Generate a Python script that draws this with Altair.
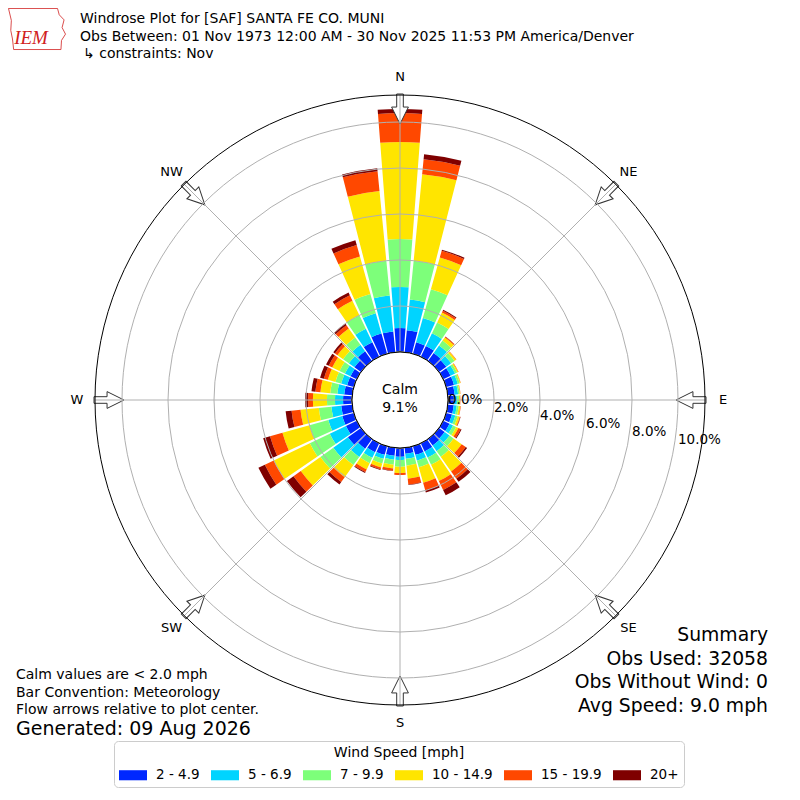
import math
import altair as alt
import pandas as pd

# ---------------- geometry of the polar panel ----------------
CHART_W = 784
CHART_H = 784
CX = CHART_W / 2
CY = CHART_H / 2
R_CALM = 48          # px radius of the calm circle (= 0 %)
R_OUTER = 305        # px radius of the outer circle
PX_PER_PCT = 23.0
R_MAX_PCT = (R_OUTER - R_CALM) / PX_PER_PCT
BAR_HALF_DEG = 4.4
FONT = "DejaVu Sans"

# ---------------- data ----------------
directions = list(range(0, 360, 10))
speed_bins = ["2 - 4.9", "5 - 6.9", "7 - 9.9", "10 - 14.9", "15 - 19.9", "20+"]
bin_colors = ["#0028ff", "#00d4ff", "#7dff7a", "#ffe500", "#ff4800", "#7f0000"]

# frequency (%) per direction (0, 10, ... 350 deg) for each speed bin
pct_2_5 = [1.04, 0.96, 0.52, 0.52, 0.43, 0.39, 0.35, 0.35, 0.30, 0.26, 0.26, 0.26,
           0.30, 0.30, 0.35, 0.39, 0.39, 0.26, 0.38, 0.35, 0.39, 0.43, 0.52, 0.70,
           0.52, 0.52, 0.48, 0.39, 0.35, 0.30, 0.30, 0.35, 0.52, 0.70, 0.91, 0.91]
pct_5_7 = [1.79, 1.34, 1.09, 0.61, 0.40, 0.26, 0.22, 0.17, 0.15, 0.13, 0.13, 0.15,
           0.17, 0.26, 0.30, 0.30, 0.26, 0.22, 0.14, 0.17, 0.18, 0.27, 0.44, 0.78,
           0.78, 0.63, 0.43, 0.35, 0.30, 0.27, 0.27, 0.30, 0.35, 0.65, 0.92, 1.57]
pct_7_10 = [2.08, 1.70, 1.30, 0.52, 0.26, 0.18, 0.10, 0.09, 0.07, 0.09, 0.09, 0.11,
            0.15, 0.22, 0.30, 0.35, 0.30, 0.30, 0.29, 0.22, 0.21, 0.26, 0.43, 0.69,
            0.96, 0.85, 0.55, 0.35, 0.31, 0.26, 0.26, 0.31, 0.39, 0.65, 0.87, 1.52]
pct_10_15 = [4.22, 3.78, 1.44, 0.48, 0.17, 0.08, 0.05, 0.04, 0.03, 0.04, 0.07, 0.09,
             0.11, 0.43, 0.78, 0.78, 0.70, 0.57, 0.28, 0.17, 0.18, 0.30, 0.65, 1.05,
             1.74, 1.22, 0.80, 0.61, 0.43, 0.34, 0.35, 0.30, 0.48, 0.70, 1.69, 3.04]
pct_15_20 = [1.26, 0.65, 0.30, 0.09, 0.04, 0.02, 0.02, 0.01, 0.01, 0.02, 0.02, 0.03,
             0.11, 0.22, 0.39, 0.43, 0.35, 0.26, 0.08, 0.09, 0.08, 0.13, 0.26, 0.39,
             0.43, 0.56, 0.39, 0.21, 0.22, 0.18, 0.17, 0.13, 0.17, 0.26, 0.52, 0.87]
pct_20p = [0.18, 0.22, 0.05, 0.04, 0.01, 0.00, 0.00, 0.00, 0.00, 0.00, 0.00, 0.01,
           0.04, 0.07, 0.17, 0.26, 0.09, 0.02, 0.00, 0.02, 0.03, 0.04, 0.13, 0.35,
           0.31, 0.31, 0.26, 0.13, 0.17, 0.17, 0.13, 0.09, 0.09, 0.13, 0.22, 0.13]
all_series = [pct_2_5, pct_5_7, pct_7_10, pct_10_15, pct_15_20, pct_20p]

ring_pcts = [2, 4, 6, 8, 10]
ring_labels = ["0.0%", "2.0%", "4.0%", "6.0%", "8.0%", "10.0%"]
ring_label_pcts = [0, 2, 4, 6, 8, 10]
compass_names = ["N", "NE", "E", "SE", "S", "SW", "W", "NW"]
compass_degs = [0, 45, 90, 135, 180, 225, 270, 315]

title_lines = [
    "Windrose Plot for [SAF] SANTA FE CO. MUNI",
    "Obs Between: 01 Nov 1973 12:00 AM - 30 Nov 2025 11:53 PM America/Denver",
    "\u21b3 constraints: Nov",
]
summary_lines = ["Summary", "Obs Used: 32058", "Obs Without Wind: 0", "Avg Speed: 9.0 mph"]
note_lines = ["Calm values are < 2.0 mph", "Bar Convention: Meteorology",
              "Flow arrows relative to plot center."]
generated_text = "Generated: 09 Aug 2026"
calm_lines = ["Calm", "9.1%"]

# ---------------- tables ----------------
rows = []
for i, d in enumerate(directions):
    base = 0.0
    for b, series in zip(speed_bins, all_series):
        v = series[i]
        rows.append(dict(dir=d, bin=b,
                         t0=math.radians(d - BAR_HALF_DEG),
                         t1=math.radians(d + BAR_HALF_DEG),
                         r0=base, r1=base + v))
        base += v
bars_df = pd.DataFrame(rows)

rscale = alt.Scale(type="linear", domain=[0, R_MAX_PCT], range=[R_CALM, R_OUTER])

legend = alt.Legend(
    title="Wind Speed [mph]", orient="none", legendX=106, legendY=733,
    direction="horizontal", titleAnchor="middle", titleFontSize=14,
    titleFontWeight="normal", titleColor="black", titleFont=FONT,
    labelFont=FONT, labelFontSize=13.5, labelColor="black",
    symbolType="M-1,-0.36L1,-0.36L1,0.36L-1,0.36Z", symbolSize=784,
    symbolStrokeWidth=0, symbolOpacity=1, labelOffset=9, columnPadding=11,
    padding=5, strokeColor="#cccccc", fillColor="white", cornerRadius=4,
    titlePadding=1,
)

bars = alt.Chart(bars_df).mark_arc().encode(
    theta=alt.Theta("t0:Q", scale=None, stack=False),
    theta2=alt.Theta2("t1:Q"),
    radius=alt.Radius("r1:Q", scale=rscale, stack=False),
    radius2=alt.Radius2("r0:Q"),
    color=alt.Color("bin:N", scale=alt.Scale(domain=speed_bins, range=bin_colors),
                    legend=legend),
)

full_circle = [0.0, 2 * math.pi]
rings_df = pd.DataFrame({"p": ring_pcts, "t0": full_circle[0], "t1": full_circle[1]})
rings = alt.Chart(rings_df).mark_arc(fillOpacity=0, stroke="#b0b0b0", strokeWidth=1).encode(
    theta=alt.Theta("t0:Q", scale=None, stack=False),
    theta2=alt.Theta2("t1:Q"),
    radius=alt.Radius("p:Q", scale=rscale, stack=False),
)

outer_df = pd.DataFrame({"p": [R_MAX_PCT], "t0": [0.0], "t1": [2 * math.pi]})
outer = alt.Chart(outer_df).mark_arc(fillOpacity=0, stroke="black", strokeWidth=1).encode(
    theta=alt.Theta("t0:Q", scale=None, stack=False),
    theta2=alt.Theta2("t1:Q"),
    radius=alt.Radius("p:Q", scale=rscale, stack=False),
)

calm_df = pd.DataFrame({"t0": [0.0], "t1": [2 * math.pi]})
calm = alt.Chart(calm_df).mark_arc(fill="white", stroke="black", strokeWidth=1).encode(
    theta=alt.Theta("t0:Q", scale=None, stack=False),
    theta2=alt.Theta2("t1:Q"),
    radius=alt.value(R_CALM),
)

# radial grid lines (every 45 deg, through the centre)
spokes = []
for d in [0, 45, 90, 135]:
    a = math.radians(d)
    spokes.append(dict(x=CX + R_OUTER * math.sin(a), y=CY - R_OUTER * math.cos(a),
                       x2=CX - R_OUTER * math.sin(a), y2=CY + R_OUTER * math.cos(a)))
spokes_df = pd.DataFrame(spokes)
spoke_layer = alt.Chart(spokes_df).mark_rule(color="#b0b0b0", strokeWidth=1).encode(
    x=alt.X("x:Q", scale=None, axis=None), y=alt.Y("y:Q", scale=None, axis=None),
    x2="x2:Q", y2="y2:Q",
)

# inward-pointing flow arrows on the outer circle
ARROW = ("M-0.22,-1 L0.22,-1 L0.22,-0.13 L0.56,-0.13 L0,1 "
         "L-0.56,-0.13 L-0.22,-0.13 Z")
R_ARROW = 291
arrows_df = pd.DataFrame([
    dict(x=CX + R_ARROW * math.sin(math.radians(d)),
         y=CY - R_ARROW * math.cos(math.radians(d)), ang=d)
    for d in compass_degs])
arrows = alt.Chart(arrows_df).mark_point(
    shape=ARROW, size=900, filled=True, fill="white", stroke="#333333",
    strokeWidth=1, opacity=1).encode(
    x=alt.X("x:Q", scale=None, axis=None), y=alt.Y("y:Q", scale=None, axis=None),
    angle=alt.Angle("ang:Q", scale=None),
)

# compass labels
R_LABEL = 323
comp_df = pd.DataFrame([
    dict(x=CX + R_LABEL * math.sin(math.radians(d)),
         y=CY - R_LABEL * math.cos(math.radians(d)), t=n)
    for n, d in zip(compass_names, compass_degs)])


def text_layer(df, **kw):
    base = dict(font=FONT, color="black")
    base.update(kw)
    return alt.Chart(df).mark_text(**base).encode(
        x=alt.X("x:Q", scale=None, axis=None),
        y=alt.Y("y:Q", scale=None, axis=None),
        text="t:N",
    )


comp_text = text_layer(comp_df, fontSize=13, align="center", baseline="middle")

# radial percentage labels
rl_df = pd.DataFrame([
    dict(x=CX + R_CALM + PX_PER_PCT * p, y=CY + 4 * p, t=t)
    for p, t in zip(ring_label_pcts, ring_labels)])
rl_text = text_layer(rl_df, fontSize=13.5, align="left", baseline="middle")

calm_text = text_layer(pd.DataFrame([dict(x=CX, y=CY - 10, t=calm_lines[0]),
                                     dict(x=CX, y=CY + 8, t=calm_lines[1])]),
                       fontSize=14, align="center", baseline="middle")

title_text = text_layer(pd.DataFrame([dict(x=72, y=11, t=title_lines[0]),
                                      dict(x=72, y=29, t=title_lines[1]),
                                      dict(x=75, y=46, t=title_lines[2])]),
                        fontSize=14, align="left", baseline="middle")

summary_text = text_layer(pd.DataFrame([dict(x=760, y=627 + 23.5 * i, t=s)
                                        for i, s in enumerate(summary_lines)]),
                          fontSize=18.8, align="right", baseline="middle")

note_text = text_layer(pd.DataFrame([dict(x=8, y=667 + 17.5 * i, t=s)
                                     for i, s in enumerate(note_lines)]),
                       fontSize=14, align="left", baseline="middle")

gen_text = text_layer(pd.DataFrame([dict(x=8, y=721, t=generated_text)]),
                      fontSize=19, align="left", baseline="middle")

# IEM logo (outline of Iowa + letters)
IOWA = ("M-1,-0.72 L0.72,-0.72 L0.78,-0.5 L0.95,-0.32 L0.88,-0.05 L1,0.18 "
        "L0.86,0.4 L0.84,0.72 L-0.82,0.72 L-0.86,0.35 L-0.92,0.05 L-0.9,-0.3 Z")
logo_shape = alt.Chart(pd.DataFrame([dict(x=29, y=21)])).mark_point(
    shape=IOWA, size=3249, filled=False, stroke="#d02020", strokeWidth=0.8,
    opacity=1).encode(
    x=alt.X("x:Q", scale=None, axis=None), y=alt.Y("y:Q", scale=None, axis=None))
logo_text = text_layer(pd.DataFrame([dict(x=23, y=30, t="IEM")]),
                       fontSize=19, align="center", baseline="middle",
                       font="Liberation Serif", fontStyle="italic", color="#d02020")

chart = alt.layer(
    bars, arrows, rings, spoke_layer, outer, calm,
    comp_text, rl_text, calm_text, title_text, summary_text, note_text,
    gen_text, logo_shape, logo_text,
).properties(
    width=CHART_W, height=CHART_H, autosize="none", padding=0,
).configure_view(stroke=None)

chart.save("out.html", embed_options={"renderer": "svg", "actions": False})
